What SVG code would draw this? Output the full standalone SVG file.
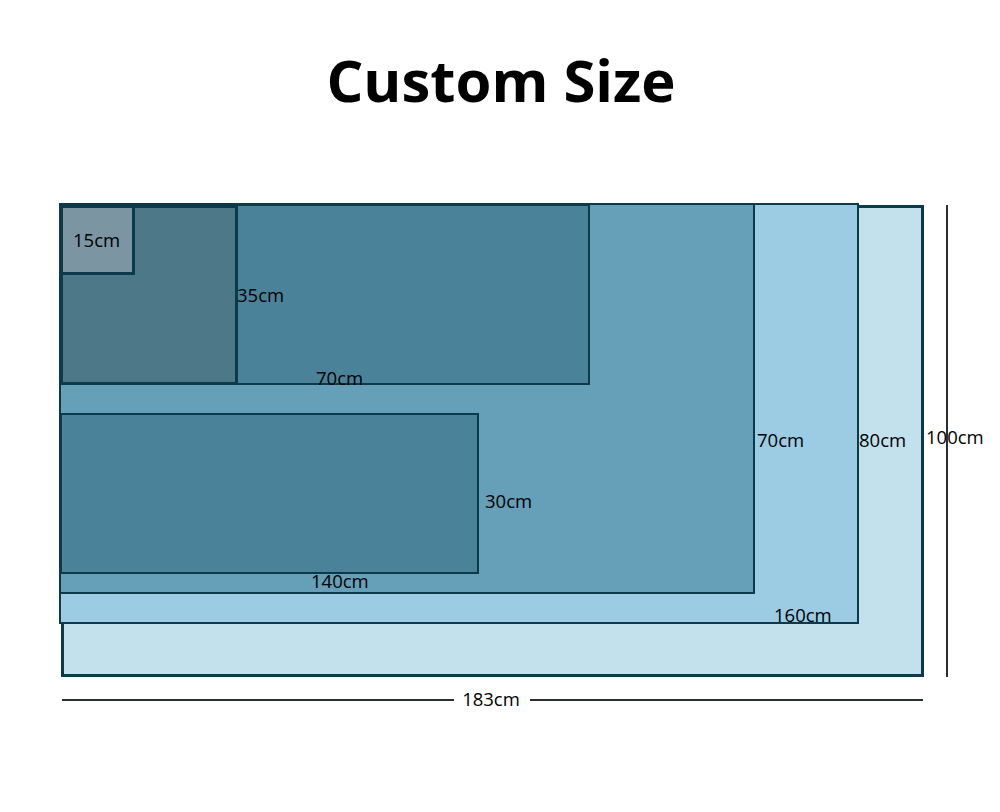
<svg xmlns="http://www.w3.org/2000/svg" width="1000" height="812" viewBox="0 0 1000 812">
<style>
.r{stroke:#0b3b4b;stroke-width:2}
.t{font-family:"Open Sans","Liberation Sans",sans-serif;font-size:18.5px;fill:#000}
.dim{stroke:#2a2f33;stroke-width:2;fill:none}
</style>
<rect width="1000" height="812" fill="#ffffff"/>
<text x="501" y="102" text-anchor="middle" font-family="'Open Sans','Liberation Sans',sans-serif" font-weight="bold" font-size="58" fill="#000">Custom Size</text>
<g id="r183x100"><rect class="r" x="62.5" y="206.5" width="860" height="469" fill="#c3e0ed" style="stroke-width:3"/></g>
<g id="r160x80"><rect class="r" x="60" y="204" width="798" height="419" fill="#9ccce3"/></g>
<g id="r140x70"><rect class="r" x="60" y="204" width="694" height="389" fill="#659fb8"/></g>
<g id="r70x35"><rect class="r" x="61" y="205" width="528" height="179" fill="#4a8399"/></g>
<g id="r140x30"><rect class="r" x="61" y="414" width="417" height="159" fill="#4a8399"/></g>
<g id="r35"><rect class="r" x="61.5" y="206.5" width="175" height="177" fill="#4d7888" style="stroke-width:3"/></g>
<g id="r15"><rect class="r" x="61.5" y="206.5" width="72" height="67" fill="#7b95a2" style="stroke-width:3"/></g>
<g id="labels">
<text class="t" x="73" y="247">15cm</text>
<text class="t" x="237" y="302">35cm</text>
<text class="t" x="316" y="385">70cm</text>
<text class="t" x="757" y="447">70cm</text>
<text class="t" x="859" y="447">80cm</text>
<text class="t" x="926" y="444">100cm</text>
<text class="t" x="485" y="508">30cm</text>
<text class="t" x="311" y="588">140cm</text>
<text class="t" x="774" y="622">160cm</text>
<text class="t" x="491" y="706" text-anchor="middle">183cm</text>
</g>
<g id="connectors">
<line class="dim" x1="947" y1="205" x2="947" y2="677"/>
<line class="dim" x1="62" y1="700" x2="454" y2="700"/>
<line class="dim" x1="530" y1="700" x2="923" y2="700"/>
</g>
</svg>
